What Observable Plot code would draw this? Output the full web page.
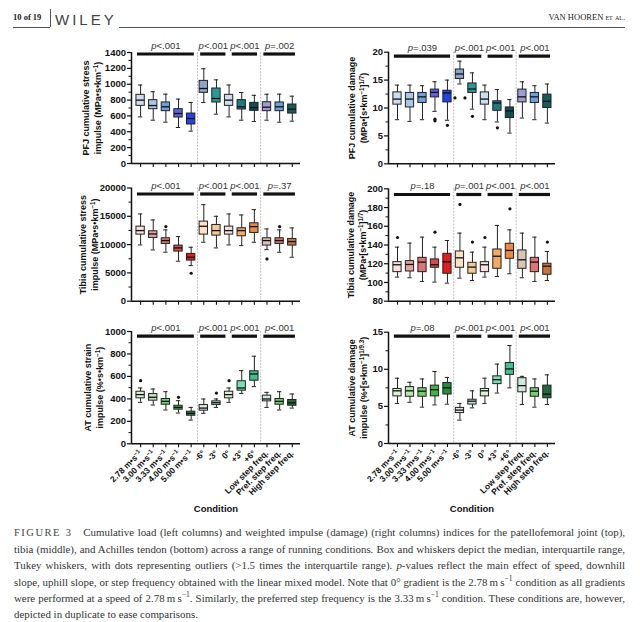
<!DOCTYPE html>
<html><head><meta charset="utf-8">
<script src="https://cdn.jsdelivr.net/npm/d3@7"></script>
<script src="https://cdn.jsdelivr.net/npm/@observablehq/plot@0.6"></script>
<style>
body{margin:0;background:#fff;}
#page{position:relative;width:640px;height:622px;overflow:hidden;background:#fff;font-family:"Liberation Serif","Times New Roman",serif;color:#222;}
.pan{position:absolute;}
.pan svg{overflow:visible;display:block;}
.hl{position:absolute;height:0;border-top:0.8px solid #555;}
#cap{position:absolute;left:14px;top:524px;width:611px;font-size:10.9px;line-height:16.2px;color:#333;}
#cap .ln{white-space:nowrap;text-align:justify;text-align-last:justify;}
#cap .last{text-align-last:left;}
#cap .fig{letter-spacing:1.5px;font-size:10.5px;color:#444;}
#cap sup{font-size:0.7em;vertical-align:super;line-height:0;}
</style></head><body>
<div id="page">
  <div style="position:absolute;left:13px;top:12px;font:bold 8.5px 'Liberation Serif',serif;">10 of 19</div>
  <div style="position:absolute;left:50px;top:9px;width:0;height:18px;border-left:0.8px solid #555;"></div>
  <div style="position:absolute;left:55px;top:11px;font:15px 'Liberation Sans',Arial,sans-serif;letter-spacing:3px;color:#444;line-height:17px;">WILEY</div>
  <div class="hl" style="left:13px;top:27px;width:37px;"></div>
  <div class="hl" style="left:119px;top:27px;width:506px;"></div>
  <div style="position:absolute;right:15px;top:12px;font:8.5px 'Liberation Serif',serif;">VAN HOOREN <span style="font-variant:small-caps">et al.</span></div>
  <div id="charts"></div>
  <div id="cap">
    <div class="ln"><span class="fig">FIGURE 3</span>&nbsp;&nbsp; Cumulative load (left columns) and weighted impulse (damage) (right columns) indices for the patellofemoral joint (top),</div>
    <div class="ln">tibia (middle), and Achilles tendon (bottom) across a range of running conditions. Box and whiskers depict the median, interquartile range,</div>
    <div class="ln">Tukey whiskers, with dots representing outliers (&gt;1.5 times the interquartile range). <i>p</i>-values reflect the main effect of speed, downhill</div>
    <div class="ln">slope, uphill slope, or step frequency obtained with the linear mixed model. Note that 0° gradient is the 2.78&thinsp;m&thinsp;s<sup>−1</sup> condition as all gradients</div>
    <div class="ln">were performed at a speed of 2.78&thinsp;m&thinsp;s<sup>−1</sup>. Similarly, the preferred step frequency is the 3.33&thinsp;m&thinsp;s<sup>−1</sup> condition. These conditions are, however,</div>
    <div class="ln last">depicted in duplicate to ease comparisons.</div>
  </div>
</div>
<script>
// ---------- DATA ----------
const conditions = ["2.78 m•s^{−1}", "3.00 m•s^{−1}", "3.33 m•s^{−1}", "4.00 m•s^{−1}", "5.00 m•s^{−1}",
  "-6°", "-3°", "0°", "+3°", "+6°", "Low step freq.", "Pref. step freq.", "High step freq."];

const blueColors = ["#cddcf0","#a9c5ea","#6aa0e0","#5c62e2","#2242ee","#8ba5c9","#279a9a","#cddcf0","#1c7b80","#0e4e55","#9d9dd4","#6aa0e0","#155e60"];
const redColors = ["#f9e1e1","#e8a2a2","#e07272","#d84a4a","#e41c1c","#fbe1c2","#f6c992","#f9e1e1","#f5aa62","#f08a3a","#d9c4b6","#e07272","#c8733a"];
const greenColors = ["#ddf0d2","#b7e6b1","#6cd36c","#3fb43f","#1f8f3a","#dfe9e4","#c7e2dc","#ddf0d2","#73e3b4","#3fc08e","#d0e9dc","#6cd36c","#1f6b3e"];

// box tuples: [lower whisker, Q1, median, Q3, upper whisker]
const pfjStress = [
  [588,727,799,866,990],[546,685,731,799,905],[521,660,715,770,875],[454,580,630,685,812],[408,492,567,630,770],
  [769,891,946,1042,1195],[622,769,820,946,1055],[588,727,799,866,990],[546,681,715,799,895],[530,664,705,765,860],
  [546,660,710,773,874],[521,660,715,770,875],[534,630,685,744,849]];
const pfjDamage = [
  [7.9,10.6,11.6,12.8,14.1],[7.6,10.1,11.6,12.7,14.1],[7.9,10.9,12.0,12.7,14.0],[9.4,11.9,12.8,13.3,14.7],[7.8,11.0,12.7,13.1,15.0],
  [14.3,15.2,16.1,16.9,18.4],[9.8,12.7,13.4,14.4,16.3],[7.9,10.6,11.6,12.8,14.1],[7.5,9.5,10.9,11.2,13.3],[5.5,8.2,9.5,10.1,11.5],
  [8.2,11.0,12.0,13.3,14.7],[7.9,10.9,12.0,12.7,14.0],[7.3,10.0,11.2,12.4,14.3]];
const tibiaStress = [
  [9940,11765,12470,13176,15410],[9060,11176,11882,12353,14353],[8650,10118,10706,11118,12590],[7060,8765,9412,9824,11412],[6290,7176,7765,8353,9530],
  [10410,11765,13235,14059,17060],[9410,11588,12470,13471,15000],[9940,11765,12470,13176,15410],[9820,11470,12470,12882,15235],[10410,12059,13176,13765,16176],
  [9118,9824,10706,11118,12765],[8650,10118,10706,11118,12590],[7765,9824,10529,11000,12941]];
const tibiaDamage = [
  [105.7,111.0,118.9,121.7,137.7],[105.0,111.7,119.2,122.8,142.0],[101.1,111.0,121.7,126.3,148.4],[100.4,115.7,118.9,124.6,137.7],[99.3,109.3,122.0,130.6,144.8],
  [104.6,115.7,126.3,133.1,152.7],[102.1,109.3,116.4,121.0,132.4],[105.7,111.0,118.9,121.7,137.7],[106.4,114.6,128.0,135.2,160.9],[109.3,125.3,134.2,141.3,156.2],
  [105.0,114.6,124.2,134.2,152.7],[101.1,111.0,121.7,126.3,148.4],[102.1,108.2,117.4,120.0,133.1]];
const atStrain = [
  [369,405,438,464,497],[345,384,414,443,488],[301,348,378,399,464],[274,304,324,339,384],[211,250,271,286,324],
  [271,295,318,345,399],[324,345,366,378,399],[369,405,438,464,497],[449,473,497,557,652],[509,562,622,646,780],
  [324,378,399,429,458],[301,348,378,399,464],[318,339,365,390,443]];
const atDamage = [
  [5.4,6.35,7.1,7.35,8.8],[5.55,6.3,7.1,7.6,8.25],[4.9,6.3,7.05,7.45,8.7],[5.2,6.35,7.25,7.8,9.7],[5.3,6.6,7.5,8.15,8.9],
  [3.15,4.1,4.5,4.8,5.4],[4.8,5.25,5.7,5.9,7.1],[5.4,6.35,7.1,7.35,8.8],[6.8,8.0,8.6,9.05,10.7],[7.5,9.25,10.05,10.85,13.2],
  [5.25,6.9,7.8,8.8,9.05],[4.9,6.3,7.05,7.45,8.7],[5.25,6.1,6.65,7.8,9.25]];

// outliers: [condition index, value]
const pfjStressOut = [];
const pfjDamageOut = [[3,8.0],[3,7.7],[4,6.9],[5,11.8],[5,11.8],[6,8.5],[8,6.45]];
const tibiaStressOut = [[2,13180],[4,4940],[10,7470],[11,13180]];
const tibiaDamageOut = [[0,148],[3,153.7],[5,183.3],[6,143.1],[7,148],[9,178.6],[12,143.1]];
const atStrainOut = [[0,562],[3,414],[6,452],[7,562]];
const atDamageOut = [];

// p-value groups: speed, downhill, uphill, step frequency
const pGroups = [{from:0,to:4},{from:5,to:7},{from:7,to:9},{from:10,to:12}];
const pfjStressP = ["p<.001","p<.001","p<.001","p=.002"];
const pfjDamageP = ["p=.039","p<.001","p<.001","p<.001"];
const tibiaStressP = ["p<.001","p<.001","p<.001","p=.37"];
const tibiaDamageP = ["p=.18","p=.001","p<.001","p<.001"];
const atStrainP = ["p<.001","p<.001","p<.001","p<.001"];
const atDamageP = ["p=.08","p<.001","p<.001","p<.001"];

const panels = [
  {left:0, top:30, side:"L", boxes:pfjStress, out:pfjStressOut, colors:blueColors, p:pfjStressP, yDomain:[0,1400], yTicks:d3.range(0,1401,200), yMinor:d3.range(100,1400,200),
   ylabel:"PFJ cumulative stress\nimpulse (MPa•s•km^{−1})", mt:22, ph:111, mb:10, barDy:1.5, labelDx:-40},
  {left:320, top:30, side:"R", boxes:pfjDamage, out:pfjDamageOut, colors:blueColors, p:pfjDamageP, yDomain:[0,20], yTicks:[0,5,10,15,20], yMinor:[2.5,7.5,12.5,17.5],
   ylabel:"PFJ cumulative damage\n(MPa•[s•km^{−1}]^{1/7})", mt:21.7, ph:111.6, mb:10, barDy:4, labelDx:-31},
  {left:0, top:166, side:"L", boxes:tibiaStress, out:tibiaStressOut, colors:redColors, p:tibiaStressP, yDomain:[0,20000], yTicks:[0,5000,10000,15000,20000], yMinor:[2500,7500,12500,17500],
   ylabel:"Tibia cumulative stress\nimpulse (MPa•s•km^{−1})", mt:21.5, ph:113.2, mb:8, barDy:6, labelDx:-43},
  {left:320, top:166, side:"R", boxes:tibiaDamage, out:tibiaDamageOut, colors:redColors, p:tibiaDamageP, yDomain:[80,200], yTicks:d3.range(80,201,20), yMinor:d3.range(90,200,20),
   ylabel:"Tibia cumulative damage\n(MPa•[s•km^{−1}]^{1/7})", mt:22.3, ph:112.4, mb:8, barDy:5.7, labelDx:-32},
  {left:0, top:309, side:"L", boxes:atStrain, out:atStrainOut, colors:greenColors, p:atStrainP, yDomain:[0,1000], yTicks:d3.range(0,1001,200), yMinor:d3.range(100,1000,200),
   ylabel:"AT cumulative strain\nimpulse (%•s•km^{−1})", mt:22, ph:112.3, mb:76, barDy:4.7, showX:true, labelDx:-38},
  {left:320, top:309, side:"R", boxes:atDamage, out:atDamageOut, colors:greenColors, p:atDamageP, yDomain:[0,15], yTicks:[0,5,10,15], yMinor:[2.5,7.5,12.5],
   ylabel:"AT cumulative damage\nimpulse (%•[s•km^{−1}]^{1/9.3})", mt:22.7, ph:111.3, mb:76, barDy:4, showX:true, labelDx:-31}
];

// ---------- RENDER ----------
const NS = "http://www.w3.org/2000/svg";
function richify(root) {
  const leaves = [...root.querySelectorAll("text, tspan")].filter(el => el.children.length === 0);
  for (const el of leaves) {
    const s = el.textContent;
    if (/^p[<=]/.test(s)) {
      el.textContent = "";
      const t = document.createElementNS(NS, "tspan");
      t.setAttribute("font-style", "italic");
      t.textContent = "p";
      el.appendChild(t);
      el.appendChild(document.createTextNode(s.slice(1)));
    } else if (s.includes("^{")) {
      el.textContent = "";
      s.split(/\^\{([^}]*)\}/).forEach((part, k) => {
        if (!part) return;
        if (k % 2) {
          const t = document.createElementNS(NS, "tspan");
          t.setAttribute("baseline-shift", "super");
          t.setAttribute("font-size", "70%");
          t.textContent = part;
          el.appendChild(t);
        } else el.appendChild(document.createTextNode(part));
      });
    }
  }
}

const XD = [-0.72, 12.65];
function makePanel(c) {
  const rows = c.boxes.map((b, i) => ({i, low:b[0], q1:b[1], med:b[2], q3:b[3], high:b[4], color:c.colors[i]}));
  const outRows = [];
  c.out.forEach(([i, v]) => {
    const same = c.out.filter(o => o[0] === i && o[1] === v);
    const k = outRows.filter(o => o.i === i && o.v === v).length;
    outRows.push({i, v, x: i + (k - (same.length - 1) / 2) * 0.8});
  });
  const [yLo, yHi] = c.yDomain;
  const bars = pGroups.map((g, j) => {
    const sharedStart = pGroups.some(h => h !== g && h.to === g.from);
    const sharedEnd = pGroups.some(h => h !== g && h.from === g.to);
    return {x1: g.from + (sharedStart ? 0.25 : -0.25), x2: g.to + (sharedEnd ? -0.25 : 0.25), p: c.p[j]};
  });
  const L = c.side === "L";
  const mL = L ? 131 : 68, mR = L ? 20 : 85;
  const boxW = 0.33, capW = 0.17;
  const svg = Plot.plot({
    width: 320, height: c.mt + c.ph + c.mb,
    marginLeft: mL, marginRight: mR, marginTop: c.mt, marginBottom: c.mb,
    x: {type: "linear", domain: XD},
    y: {domain: c.yDomain},
    style: {fontFamily: '"Liberation Sans", Arial, Helvetica, sans-serif', fontSize: "9.5px", fontWeight: "bold", color: "#111", background: "transparent", overflow: "visible"},
    marks: [
      Plot.ruleX([4.5, 9.5], {stroke: "#c2c2c2", strokeWidth: 1, strokeDasharray: "2,1.2"}),
      Plot.ruleX(rows, {x: "i", y1: "low", y2: "high", stroke: "#222", strokeWidth: 1}),
      Plot.ruleY(rows, {y: "low", x1: d => d.i - capW, x2: d => d.i + capW, stroke: "#222", strokeWidth: 1}),
      Plot.ruleY(rows, {y: "high", x1: d => d.i - capW, x2: d => d.i + capW, stroke: "#222", strokeWidth: 1}),
      Plot.rect(rows, {x1: d => d.i - boxW, x2: d => d.i + boxW, y1: "q1", y2: "q3", fill: "color", stroke: "#222", strokeWidth: 1}),
      Plot.ruleY(rows, {y: "med", x1: d => d.i - boxW, x2: d => d.i + boxW, stroke: "#111", strokeWidth: 1.3}),
      Plot.dot(outRows, {x: "x", y: "v", r: 1.6, fill: "#111", stroke: null}),
      Plot.ruleY(bars, {y: () => yHi, x1: "x1", x2: "x2", dy: c.barDy, stroke: "#111", strokeWidth: 3.2}),
      Plot.text(bars, {x: d => (d.x1 + d.x2) / 2, y: () => yHi, dy: c.barDy - 8.5, text: "p", fontWeight: "normal", fontSize: 9.5, fill: "#333", lineAnchor: "middle"}),
      Plot.axisY({ticks: c.yTicks, tickSize: 4, tickPadding: 1.5, label: null, strokeWidth: 1.2, tickFormat: d => String(d)}),
      Plot.axisY({ticks: c.yMinor, tickSize: 2.5, tickFormat: () => "", label: null, strokeWidth: 1}),
      Plot.axisX({ticks: d3.range(13), tickSize: 4, tickPadding: 4, label: null, strokeWidth: 1.1,
                  tickFormat: c.showX ? (i => conditions[i]) : (() => ""), tickRotate: c.showX ? -45 : 0, fontSize: 8.5}),
      Plot.ruleX([XD[0]], {stroke: "#111", strokeWidth: 1.5}),
      Plot.ruleY([yLo], {stroke: "#111", strokeWidth: 1.5}),
      Plot.text([c.ylabel], {frameAnchor: "left", dx: c.labelDx, rotate: -90, text: d => d, textAnchor: "middle", lineAnchor: "middle", fontSize: 9, lineHeight: 1.28}),
      c.showX ? Plot.text(["Condition"], {frameAnchor: "bottom", dy: 65, text: d => d, fontSize: 9.5, textAnchor: "middle", lineAnchor: "middle"}) : null
    ]
  });
  richify(svg);
  const div = document.createElement("div");
  div.className = "pan";
  div.style.left = c.left + "px";
  div.style.top = c.top + "px";
  div.appendChild(svg);
  document.getElementById("charts").appendChild(div);
}
panels.forEach(makePanel);
</script>
</body></html>
